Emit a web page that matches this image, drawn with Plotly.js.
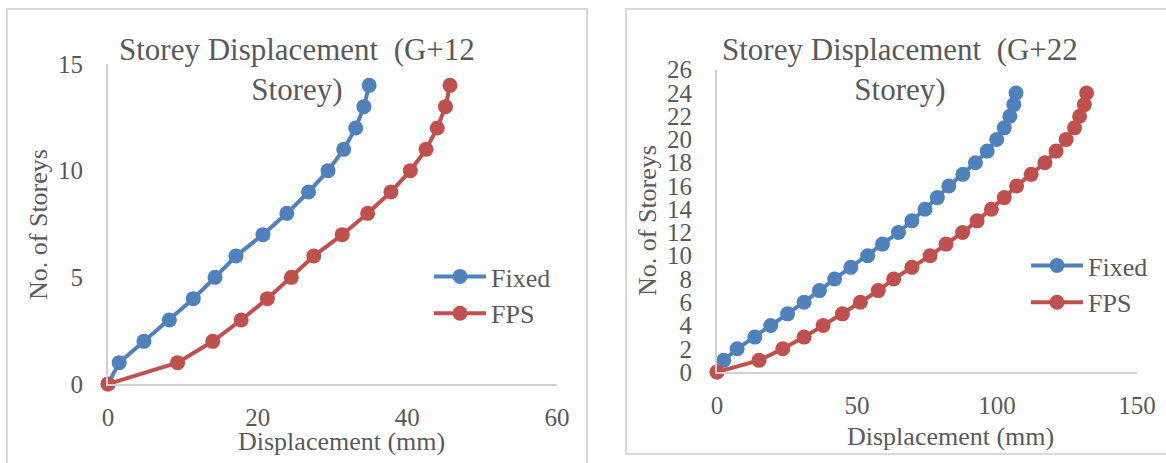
<!DOCTYPE html>
<html>
<head>
<meta charset="utf-8">
<script src="https://cdn.plot.ly/plotly-3.0.1.min.js"></script>
<style>html,body{margin:0;padding:0;background:#fff;}#chart{width:1166px;height:463px;}</style>
</head>
<body>
<div id="chart"></div>
<script>
// G+12 building
const storeys12 = [0,1,2,3,4,5,6,7,8,9,10,11,12,13,14];
const fixed12 = [0,1.5,4.8,8.2,11.4,14.3,17.1,20.7,23.9,26.8,29.4,31.5,33.1,34.2,34.9];
const fps12 = [0,9.3,14.0,17.8,21.3,24.5,27.5,31.3,34.7,37.8,40.4,42.5,44.0,45.1,45.7];
// G+22 building
const storeys22 = [0,1,2,3,4,5,6,7,8,9,10,11,12,13,14,15,16,17,18,19,20,21,22,23,24];
const fixed22 = [0,2.4,7.2,13.5,19.2,25.2,31.1,36.6,42.0,47.8,53.8,59.1,64.8,69.6,74.3,78.7,82.8,87.8,92.3,96.5,99.9,102.6,104.6,106.0,106.8];
const fps22 = [0,15.0,23.5,31.1,37.9,44.8,51.2,57.6,63.1,69.6,76.1,81.8,87.7,92.9,98.0,102.6,107.0,112.2,117.1,121.1,124.7,127.7,129.5,131.2,132.0];

const seriesNames = ["Fixed", "FPS"];
const titles = ["Storey Displacement\u00a0 (G+12<br>Storey)", "Storey Displacement\u00a0 (G+22<br>Storey)"];
const xTitle = "Displacement (mm)";
const yTitle = "No. of Storeys";

const W = 1166, H = 463;
const px = v => v / W;
const py = v => (H - v) / H;

const BLUE = "#4f81bd", RED = "#c0504d", TXT = "#595959", AX = "#d0d0d0";
const FONT = "Liberation Serif, Times New Roman, serif";

function tr(x, y, name, color, xa, ya, lg, show) {
  return {
    x: x, y: y, name: name, type: "scatter", mode: "lines+markers",
    xaxis: xa, yaxis: ya, legend: lg, showlegend: show,
    line: {color: color, width: 4},
    marker: {color: color, size: 15},
    cliponaxis: false
  };
}

const data = [
  tr(fixed12, storeys12, seriesNames[0], BLUE, "x", "y", "legend", true),
  tr(fps12, storeys12, seriesNames[1], RED, "x", "y", "legend", true),
  tr(fixed22, storeys22, seriesNames[0], BLUE, "x2", "y2", "legend2", true),
  tr(fps22, storeys22, seriesNames[1], RED, "x2", "y2", "legend2", true)
];

function xax(dom, range, dtick) {
  return {domain: dom, range: range, dtick: dtick, tick0: 0, showgrid: false, zeroline: false,
    showline: true, linecolor: AX, linewidth: 2, ticks: "", ticklabelstandoff: 10,
    tickfont: {family: FONT, size: 25, color: TXT}, fixedrange: true};
}
function yax(dom, range, dtick, anchor) {
  return {domain: dom, range: range, dtick: dtick, tick0: 0, showgrid: false, zeroline: false,
    showline: true, linecolor: AX, linewidth: 2, ticks: "", ticklabelstandoff: 18,
    tickfont: {family: FONT, size: 25, color: TXT}, fixedrange: true, anchor: anchor};
}

const layout = {
  width: W, height: H,
  margin: {l: 0, r: 0, t: 0, b: 0},
  paper_bgcolor: "#fff", plot_bgcolor: "rgba(0,0,0,0)",
  font: {family: FONT, color: TXT},
  xaxis: Object.assign(xax([px(108), px(557)], [0, 60], 20), {anchor: "y"}),
  yaxis: yax([py(384), py(64)], [0, 15], 5, "x"),
  xaxis2: Object.assign(xax([px(717), px(1137)], [0, 150], 50), {anchor: "y2"}),
  yaxis2: yax([py(372), py(69.7)], [0, 26], 2, "x2"),
  legend: {x: px(429), y: py(253), xanchor: "left", yanchor: "top", bgcolor: "rgba(0,0,0,0)",
    font: {family: FONT, size: 26, color: TXT}, itemwidth: 52, tracegroupgap: 0},
  legend2: {x: px(1026), y: py(242), xanchor: "left", yanchor: "top", bgcolor: "rgba(0,0,0,0)",
    font: {family: FONT, size: 26, color: TXT}, itemwidth: 52, tracegroupgap: 0},
  shapes: [
    {type: "rect", xref: "paper", yref: "paper", x0: px(7), x1: px(587), y0: py(475), y1: py(9),
      line: {color: "#d9d9d9", width: 2}},
    {type: "rect", xref: "paper", yref: "paper", x0: px(626), x1: px(1180), y0: py(454), y1: py(9),
      line: {color: "#d9d9d9", width: 2}}
  ],
  annotations: [
    {text: titles[0], xref: "paper", yref: "paper", x: px(297), y: py(69), xanchor: "center", yanchor: "middle",
      showarrow: false, align: "center", font: {family: FONT, size: 31, color: TXT}},
    {text: titles[1], xref: "paper", yref: "paper", x: px(900), y: py(69), xanchor: "center", yanchor: "middle",
      showarrow: false, align: "center", font: {family: FONT, size: 31, color: TXT}},
    {text: xTitle, xref: "paper", yref: "paper", x: px(341), y: py(441), xanchor: "center", yanchor: "middle",
      showarrow: false, font: {family: FONT, size: 26, color: TXT}},
    {text: xTitle, xref: "paper", yref: "paper", x: px(951), y: py(436), xanchor: "center", yanchor: "middle",
      showarrow: false, font: {family: FONT, size: 26, color: TXT}},
    {text: yTitle, xref: "paper", yref: "paper", x: px(38), y: py(225), xanchor: "center", yanchor: "middle",
      textangle: -90, showarrow: false, font: {family: FONT, size: 26, color: TXT}},
    {text: yTitle, xref: "paper", yref: "paper", x: px(647), y: py(221), xanchor: "center", yanchor: "middle",
      textangle: -90, showarrow: false, font: {family: FONT, size: 26, color: TXT}}
  ]
};

Plotly.newPlot("chart", data, layout, {displayModeBar: false, staticPlot: true});
</script>
</body>
</html>
